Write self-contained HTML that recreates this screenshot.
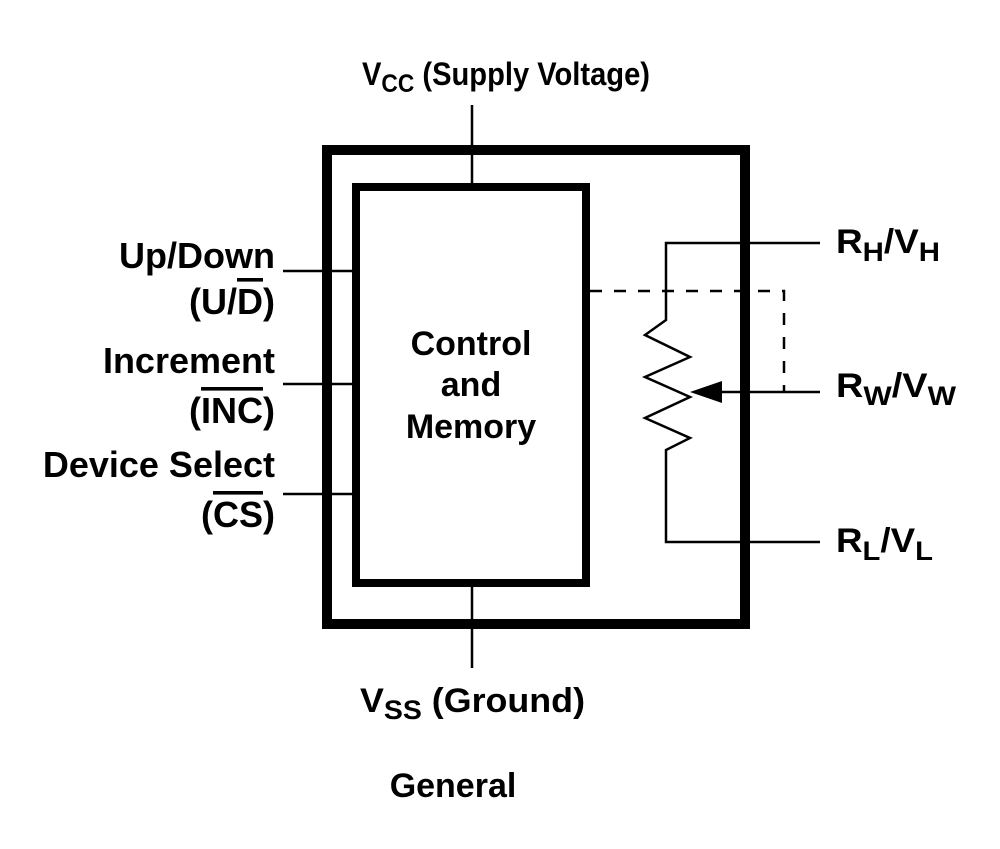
<!DOCTYPE html>
<html><head><meta charset="utf-8"><style>
html,body{margin:0;padding:0;background:#fff;}
svg{display:block;}
text{font-family:"Liberation Sans",Arial,sans-serif;font-weight:bold;font-size:34px;fill:#000;}
.l{font-size:36px;}
.s{font-size:27px;}
.v{font-size:32px;}
.vs{font-size:25px;}
.o{text-decoration:overline;}
</style></head><body>
<svg width="1000" height="849" viewBox="0 0 1000 849">
<rect x="327" y="150" width="418" height="474" fill="none" stroke="#000" stroke-width="10"/>
<rect x="356" y="187" width="230" height="396" fill="none" stroke="#000" stroke-width="8"/>
<g stroke="#000" stroke-width="2.5" fill="none">
<line x1="472" y1="105" x2="472" y2="187"/>
<line x1="472" y1="583" x2="472" y2="668"/>
<line x1="283" y1="271" x2="352" y2="271"/>
<line x1="283" y1="384" x2="352" y2="384"/>
<line x1="283" y1="494" x2="352" y2="494"/>
<polyline points="820,243 666,243 666,320 645,335 690,357 645,377 690,397 645,418 690,438 666,450 666,542 820,542"/>
<line x1="715" y1="392" x2="820" y2="392"/>
<polyline points="590,291 784,291 784,392" stroke-dasharray="12,12"/>
</g>
<polygon points="690,392 722,381 722,403" fill="#000"/>
<text class="v" x="362" y="85" textLength="288" lengthAdjust="spacingAndGlyphs">V<tspan class="vs" dy="7">CC</tspan><tspan dy="-7"> (Supply Voltage)</tspan></text>
<text x="360" y="712" textLength="225" lengthAdjust="spacingAndGlyphs">V<tspan class="s" dy="7">SS</tspan><tspan dy="-7"> (Ground)</tspan></text>
<text x="453" y="797" text-anchor="middle">General</text>
<text class="l" x="275" y="268" text-anchor="end">Up/Down</text>
<text class="l" x="275" y="314" text-anchor="end">(U/<tspan class="o">D</tspan>)</text>
<text class="l" x="275" y="373" text-anchor="end">Increment</text>
<text class="l" x="275" y="423" text-anchor="end">(<tspan class="o">INC</tspan>)</text>
<text class="l" x="275" y="477" text-anchor="end">Device Select</text>
<text class="l" x="275" y="527" text-anchor="end">(<tspan class="o">CS</tspan>)</text>
<text x="471" y="355" text-anchor="middle">Control</text>
<text x="471" y="396" text-anchor="middle">and</text>
<text x="471" y="438" text-anchor="middle">Memory</text>
<text x="836" y="253" textLength="104" lengthAdjust="spacingAndGlyphs">R<tspan class="s" dy="8">H</tspan><tspan dy="-8">/V</tspan><tspan class="s" dy="8">H</tspan></text>
<text x="836" y="397" textLength="120" lengthAdjust="spacingAndGlyphs">R<tspan class="s" dy="8">W</tspan><tspan dy="-8">/V</tspan><tspan class="s" dy="8">W</tspan></text>
<text x="836" y="552" textLength="97" lengthAdjust="spacingAndGlyphs">R<tspan class="s" dy="8">L</tspan><tspan dy="-8">/V</tspan><tspan class="s" dy="8">L</tspan></text>
</svg>
</body></html>
